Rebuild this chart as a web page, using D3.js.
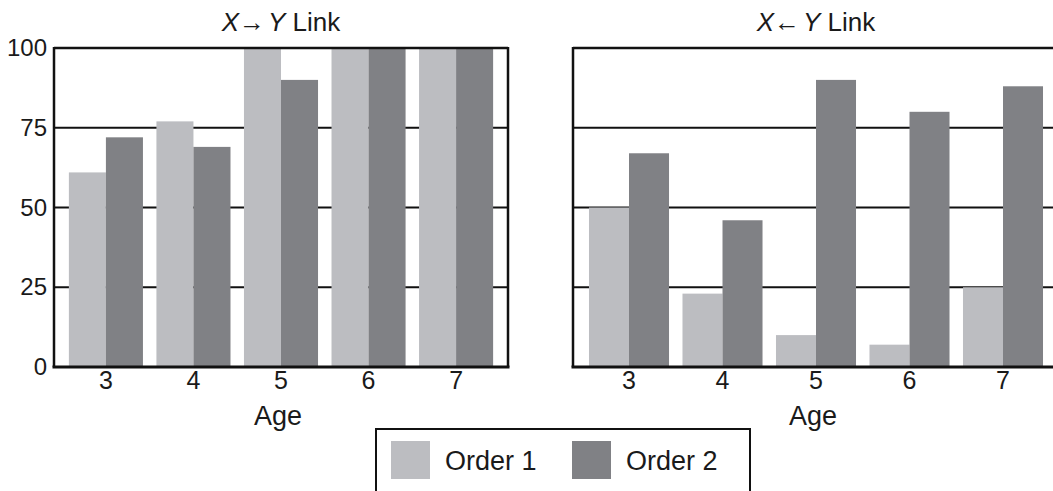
<!DOCTYPE html>
<html>
<head>
<meta charset="utf-8">
<script src="https://cdn.jsdelivr.net/npm/d3@7"></script>
<style>
  body { margin: 0; background: #fff; }
  svg { display: block; font-family: "Liberation Sans", Arial, Helvetica, sans-serif; }
</style>
</head>
<body>
<div id="chart"></div>
<script>
// Data
const ages = ['3', '4', '5', '6', '7'];
const seriesNames = ['Order 1', 'Order 2'];
const xyOrder1 = [61, 77, 100, 100, 100];
const xyOrder2 = [72, 69, 90, 100, 100];
const yxOrder1 = [50, 23, 10, 7, 25];
const yxOrder2 = [67, 46, 90, 80, 88];
const yTicks = [0, 25, 50, 75, 100];

const colors = ['#bcbdc1', '#808185'];

const width = 1053;
const height = 491;

const svg = d3.select('#chart').append('svg')
    .attr('width', width)
    .attr('height', height);

const yScale = d3.scaleLinear()
    .domain([0, 100])
    .range([367, 48]);

const panels = [
    { arrow: '→', x0: 54, x1: 508, pi: 0.154, po: 0.17, values: [xyOrder1, xyOrder2], showY: true },
    { arrow: '←', x0: 573, x1: 1059, pi: 0.144, po: 0.171, values: [yxOrder1, yxOrder2], showY: false }
];

panels.forEach(p => {
    const g = svg.append('g');

    const x = d3.scaleBand()
        .domain(ages)
        .range([p.x0, p.x1])
        .paddingInner(p.pi)
        .paddingOuter(p.po);

    const xSub = d3.scaleBand()
        .domain(seriesNames)
        .range([0, x.bandwidth()]);

    // gridlines behind bars
    g.selectAll('line.grid')
        .data(yTicks.filter(t => t > 0 && t < 100))
        .enter().append('line')
        .attr('x1', p.x0)
        .attr('x2', p.x1)
        .attr('y1', d => yScale(d))
        .attr('y2', d => yScale(d))
        .attr('stroke', '#111')
        .attr('stroke-width', 2);

    // bars
    const rows = [];
    ages.forEach((a, i) => {
        seriesNames.forEach((s, j) => rows.push({ age: a, series: s, value: p.values[j][i], c: colors[j] }));
    });
    g.selectAll('rect.bar')
        .data(rows)
        .enter().append('rect')
        .attr('x', d => x(d.age) + xSub(d.series))
        .attr('y', d => yScale(d.value))
        .attr('width', xSub.bandwidth())
        .attr('height', d => yScale(0) - yScale(d.value))
        .attr('fill', d => d.c);

    // frame
    g.append('line')
        .attr('x1', p.x0).attr('x2', p.x1)
        .attr('y1', yScale(100)).attr('y2', yScale(100))
        .attr('stroke', '#111').attr('stroke-width', 2.5);
    g.append('line')
        .attr('x1', p.x0).attr('x2', p.x0)
        .attr('y1', yScale(100) - 1).attr('y2', yScale(0))
        .attr('stroke', '#111').attr('stroke-width', 2.5);
    g.append('line')
        .attr('x1', p.x1).attr('x2', p.x1)
        .attr('y1', yScale(100) - 1).attr('y2', yScale(0))
        .attr('stroke', '#111').attr('stroke-width', 2.5);
    g.append('line')
        .attr('x1', p.x0 - 1.5).attr('x2', p.x1 + 1.5)
        .attr('y1', yScale(0)).attr('y2', yScale(0))
        .attr('stroke', '#111').attr('stroke-width', 3);

    // x axis
    const xAxis = g.append('g')
        .attr('transform', `translate(0,${yScale(0)})`)
        .call(d3.axisBottom(x).tickSize(0).tickPadding(4));
    xAxis.select('.domain').remove();
    xAxis.selectAll('text')
        .attr('font-size', 25)
        .attr('fill', '#1a1a1a')
        .attr('font-family', null);

    // y axis
    if (p.showY) {
        const yAxis = g.append('g')
            .attr('transform', `translate(${p.x0},0)`)
            .call(d3.axisLeft(yScale).tickValues(yTicks).tickSize(0).tickPadding(7));
        yAxis.select('.domain').remove();
        yAxis.selectAll('text')
            .attr('font-size', 24)
            .attr('fill', '#1a1a1a')
            .attr('font-family', null);
    }

    // axis title
    g.append('text')
        .attr('x', (p.x0 + p.x1) / 2 - 3)
        .attr('y', 425)
        .attr('text-anchor', 'middle')
        .attr('font-size', 27)
        .attr('fill', '#1a1a1a')
        .text('Age');

    // panel title
    const t = g.append('text')
        .attr('x', (p.x0 + p.x1) / 2)
        .attr('y', 31)
        .attr('text-anchor', 'middle')
        .attr('font-size', 26)
        .attr('fill', '#1a1a1a');
    t.append('tspan').attr('font-style', 'italic').text('X');
    t.append('tspan').text(p.arrow);
    t.append('tspan').attr('font-style', 'italic').attr('dx', 3).text('Y');
    t.append('tspan').text(' Link');
});

// legend
const legend = svg.append('g');
legend.append('rect')
    .attr('x', 376).attr('y', 429)
    .attr('width', 374).attr('height', 80)
    .attr('fill', 'none')
    .attr('stroke', '#111')
    .attr('stroke-width', 2);

const legendX = [391, 572];
seriesNames.forEach((s, i) => {
    legend.append('rect')
        .attr('x', legendX[i]).attr('y', 441)
        .attr('width', 39).attr('height', 38)
        .attr('fill', colors[i]);
    legend.append('text')
        .attr('x', legendX[i] + 54)
        .attr('y', 470)
        .attr('font-size', 27)
        .attr('fill', '#1a1a1a')
        .text(s);
});
</script>
</body>
</html>
